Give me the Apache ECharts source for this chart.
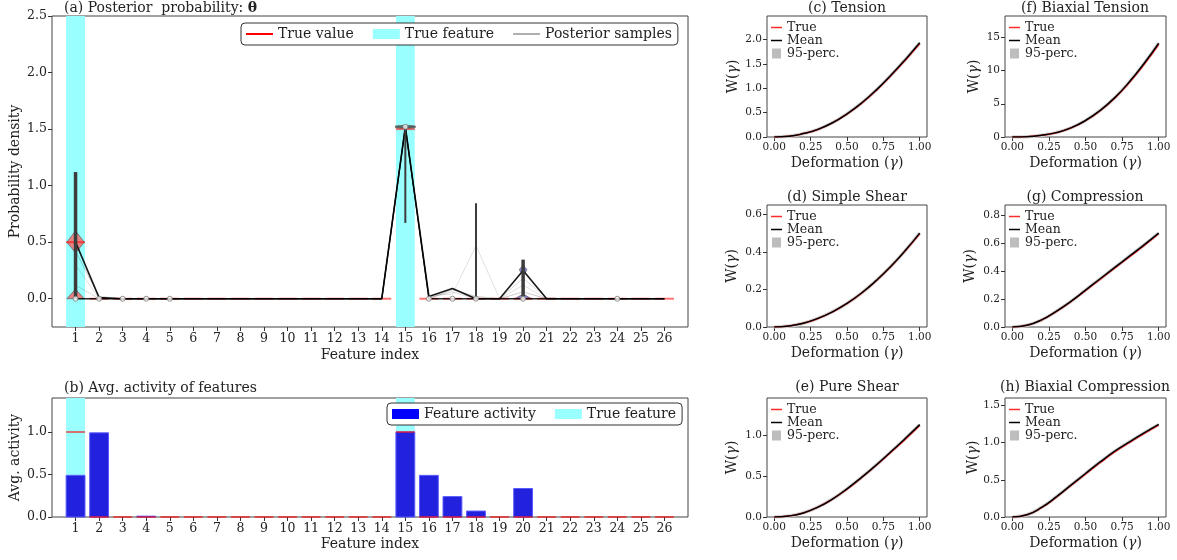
<!DOCTYPE html>
<html>
<head>
<meta charset="utf-8">
<script src="https://cdn.jsdelivr.net/npm/echarts@6.0.0/dist/echarts.min.js"></script>
<style>html,body{margin:0;padding:0;background:#fff}#c{width:1177px;height:560px}</style>
</head>
<body>
<div id="c"></div>
<script>
// ---------------- DATA ----------------
const features = [1,2,3,4,5,6,7,8,9,10,11,12,13,14,15,16,17,18,19,20,21,22,23,24,25,26];
const trueFeatures = [1, 15];
const trueValues = [0.5,0,0,0,0,0,0,0,0,0,0,0,0,0,1.5,0,0,0,0,0,0,0,0,0,0,0];
// posterior sample traces (value per feature)
const sampleMain = [0.50,0.01,0,0,0,0,0,0,0,0,0,0,0,0,1.52,0.02,0.09,0,0,0.25,0,0,0,0,0,0];
const sampleB    = [0.00,0.00,0,0,0,0,0,0,0,0,0,0,0,0,1.52,0.00,0.00,0,0,0.00,0,0,0,0,0,0];
const sampleC    = [0.30,0.00,0,0,0,0,0,0,0,0,0,0,0,0,1.50,0.03,0.04,0.47,0,0.12,0,0,0,0,0,0];
const sampleD    = [0.12,0.00,0,0,0,0,0,0,0,0,0,0,0,0,1.51,0.01,0.06,0,0,0.18,0.01,0,0,0,0,0];
const sampleE    = [0.42,0.02,0,0,0,0,0,0,0,0,0,0,0,0,1.52,0.00,0.08,0.02,0,0.06,0,0,0,0,0,0];
// violin profiles: [value, half-width in feature units]
const violin1  = [[0,0.37],[0.08,0.02],[0.41,0.02],[0.5,0.37],[0.595,0.02],[1.12,0]];
const violin15 = [[1.505,0],[1.512,0.42],[1.528,0.42],[1.535,0]];
const violin20 = [[0,0.35],[0.04,0.02],[0.22,0.02],[0.235,0.1],[0.256,0.16],[0.275,0.1],[0.29,0.02],[0.345,0]];
const violinX = [1, 15, 20];
// vertical range lines
const rangeX  = [1, 15, 18, 20];
const rangeLo = [0, 0.67, 0, 0];
const rangeHi = [1.12, 1.52, 0.845, 0.345];
// median markers
const markX = [1,2,3,4,5,15,16,17,18,20,24];
const markY = [0,0,0,0,0,1.52,0,0,0,0,0];
// (b) activity
const activity = [0.49,0.99,0,0.01,0,0,0,0,0,0,0,0,0,0,1.0,0.49,0.24,0.07,0,0.335,0,0,0,0,0,0];
const trueActivity = [1,0,0,0,0,0,0,0,0,0,0,0,0,0,1,0,0,0,0,0,0,0,0,0,0,0];
// tick labels
const ticksA = [0, 0.5, 1.0, 1.5, 2.0, 2.5];
const ticksB = [0, 0.5, 1.0];
const gammaTicks = [0, 0.25, 0.5, 0.75, 1.0];
const ticksC = [0, 0.5, 1.0, 1.5, 2.0];
const ticksF = [0, 5, 10, 15];
const ticksD = [0, 0.2, 0.4, 0.6];
const ticksG = [0, 0.2, 0.4, 0.6, 0.8];
const ticksE = [0, 0.5, 1.0];
const ticksH = [0, 0.5, 1.0, 1.5];
// deformation curves
const gamma = [0,0.1,0.2,0.3,0.4,0.5,0.6,0.7,0.8,0.9,1.0];
const tensionTrue = [0,0.015,0.07,0.155,0.29,0.47,0.69,0.95,1.25,1.57,1.91];
const tensionMean = [0,0.015,0.07,0.157,0.292,0.475,0.697,0.96,1.26,1.585,1.93];
const biaxTTrue   = [0,0.05,0.25,0.65,1.35,2.45,3.95,5.85,8.2,10.9,13.9];
const biaxTMean   = [0,0.05,0.26,0.66,1.37,2.48,4.0,5.92,8.3,11.05,14.1];
const shearTrue   = [0,0.005,0.02,0.045,0.08,0.125,0.18,0.245,0.32,0.405,0.497];
const shearMean   = [0,0.005,0.02,0.046,0.081,0.126,0.181,0.247,0.322,0.407,0.5];
const compTrue    = [0,0.012,0.05,0.11,0.18,0.26,0.34,0.42,0.50,0.58,0.665];
const compMean    = [0,0.012,0.051,0.112,0.183,0.263,0.344,0.425,0.505,0.586,0.67];
const pureTrue    = [0,0.012,0.05,0.12,0.22,0.34,0.48,0.63,0.79,0.95,1.12];
const pureMean    = [0,0.012,0.05,0.12,0.22,0.345,0.485,0.635,0.795,0.96,1.13];
const biaxCTrue   = [0,0.03,0.125,0.265,0.42,0.575,0.73,0.875,1.0,1.12,1.235];
const biaxCMean   = [0,0.03,0.13,0.27,0.428,0.585,0.74,0.885,1.01,1.13,1.245];

// ---------------- STYLE / LAYOUT ----------------
const FONT = 'DejaVu Serif';
const HW = 0.4; // half width of feature boxes in feature units
const grids = [
  {left:51,  top:16,  width:637, height:311}, // a
  {left:51,  top:398, width:637, height:119}, // b
  {left:767, top:16,  width:160, height:121}, // c
  {left:767, top:205, width:160, height:122}, // d
  {left:767, top:398, width:160, height:119}, // e
  {left:1005,top:16,  width:161, height:121}, // f
  {left:1005,top:205, width:161, height:122}, // g
  {left:1005,top:398, width:161, height:119}  // h
].map(g => Object.assign({show:true, borderColor:'#444', borderWidth:1, backgroundColor:'transparent'}, g));

const richG = {g:{fontStyle:'italic', fontFamily:FONT, fontSize:14, color:'#222'}};
function axis(gi, min, max, ticks, fmt, fs, name, gap) {
  return {
    type:'value', gridIndex:gi, min:min, max:max,
    axisLine:{show:false, onZero:false},
    axisTick:{show:true, inside:false, length:4, lineStyle:{color:'#333'}, customValues:ticks},
    axisLabel:{show:true, customValues:ticks, formatter:fmt, fontFamily:FONT, fontSize:fs, color:'#222', margin:5},
    splitLine:{show:false},
    name:name, nameLocation:'middle', nameGap:gap, nameMoveOverlap:false,
    nameTextStyle:{fontFamily:FONT, fontSize:14, color:'#222', rich:richG}
  };
}
const f1 = v => v.toFixed(1), f2 = v => v.toFixed(2), f0 = v => String(Math.round(v));

const xAxes = [
  axis(0, 0, 27, features, f0, 12.5, 'Feature index', 21),
  axis(1, 0, 27, features, f0, 12.5, 'Feature index', 20),
];
const yAxes = [
  axis(0, -0.25, 2.5, ticksA, f1, 12.5, 'Probability density', 30),
  axis(1, 0, 1.4, ticksB, f1, 12.5, 'Avg. activity', 30),
];
const smallDefs = [
  {gi:2, ymax:2.48, ticks:ticksC, fmt:f1, gap:27, t:tensionTrue, m:tensionMean},
  {gi:3, ymax:0.65, ticks:ticksD, fmt:f1, gap:28, t:shearTrue,   m:shearMean},
  {gi:4, ymax:1.456,ticks:ticksE, fmt:f1, gap:28, t:pureTrue,    m:pureMean},
  {gi:5, ymax:18.2, ticks:ticksF, fmt:f0, gap:24, t:biaxTTrue,   m:biaxTMean},
  {gi:6, ymax:0.87, ticks:ticksG, fmt:f1, gap:28, t:compTrue,    m:compMean},
  {gi:7, ymax:1.6,  ticks:ticksH, fmt:f1, gap:25, t:biaxCTrue,   m:biaxCMean}
];
smallDefs.forEach(d => {
  xAxes.push(axis(d.gi, -0.05, 1.05, gammaTicks, f2, 10.5, 'Deformation ({g|γ})', 19));
  yAxes.push(axis(d.gi, 0, d.ymax, d.ticks, d.fmt, 10.5, 'W({g|γ})', d.gap));
});

// ---------------- RENDER HELPERS ----------------
function bandRender(params, api) {
  const x = api.value(0);
  const cs = params.coordSys;
  const p1 = api.coord([x - HW, 0]), p2 = api.coord([x + HW, 0]);
  return {type:'rect', shape:{x:p1[0], y:cs.y, width:p2[0]-p1[0], height:cs.height}, style:{fill:'#99ffff'}};
}
function hlineRender(params, api) {
  const x = api.value(0), y = api.value(1);
  const a = api.coord([x - HW, y]), b = api.coord([x + HW, y]);
  return {type:'line', shape:{x1:a[0], y1:a[1], x2:b[0], y2:b[1]}, style:{stroke:'rgba(255,0,0,0.55)', lineWidth:2}};
}
const violinProfiles = [violin1, violin15, violin20];
const violinFill = ['rgba(236,118,118,0.9)', 'rgba(70,70,70,0.85)', 'rgba(105,105,215,0.8)'];
function violinRender(params, api) {
  const i = params.dataIndex, x = api.value(0), prof = violinProfiles[i];
  const left = prof.map(p => api.coord([x - p[1], p[0]]));
  const right = prof.slice().reverse().map(p => api.coord([x + p[1], p[0]]));
  return {type:'polygon', shape:{points:left.concat(right)}, style:{fill:violinFill[i], stroke:'#666', lineWidth:0.8}};
}
const rangeWidth = [3.5, 2, 2, 3.5];
function rangeRender(params, api) {
  const x = api.value(0);
  const a = api.coord([x, api.value(1)]), b = api.coord([x, api.value(2)]);
  return {type:'line', shape:{x1:a[0], y1:a[1], x2:b[0], y2:b[1]}, style:{stroke:'#3c3c3c', lineWidth:rangeWidth[params.dataIndex]}};
}
function barRender(params, api) {
  const x = api.value(0), v = api.value(1);
  if (!(v > 0)) return null;
  const a = api.coord([x - HW, v]), b = api.coord([x + HW, 0]);
  return {type:'rect', shape:{x:a[0], y:a[1], width:b[0]-a[0], height:b[1]-a[1]}, style:{fill:'#2121de', stroke:'#5a5aff', lineWidth:1}};
}

const series = [];
// ---- panel (a)
series.push({name:'True feature', type:'custom', xAxisIndex:0, yAxisIndex:0, renderItem:bandRender, data:trueFeatures.map(v=>[v]), itemStyle:{color:'#99ffff'}, z:1, silent:true});
series.push({name:'violins', type:'custom', xAxisIndex:0, yAxisIndex:0, renderItem:violinRender, data:violinX.map(v=>[v]), z:2, clip:true, silent:true});
series.push({name:'trueLinesA', type:'custom', xAxisIndex:0, yAxisIndex:0, renderItem:hlineRender, data:features.map((f,i)=>[f, trueValues[i]]), z:3, silent:true});
const sampleSets = [sampleC, sampleD, sampleE, sampleB, sampleMain];
const sampleStyle = [
  {color:'#000', width:1, opacity:0.12},
  {color:'#000', width:1, opacity:0.15},
  {color:'#000', width:1, opacity:0.2},
  {color:'#000', width:1.3, opacity:0.85},
  {color:'#000', width:1.6, opacity:0.9}
];
sampleSets.forEach((s, k) => {
  series.push({name:'sample'+k, type:'line', xAxisIndex:0, yAxisIndex:0, data:features.map((f,i)=>[f, s[i]]), symbol:'none', lineStyle:sampleStyle[k], z:4, silent:true, animation:false});
});
series.push({name:'ranges', type:'custom', xAxisIndex:0, yAxisIndex:0, renderItem:rangeRender, data:rangeX.map((x,i)=>[x, rangeLo[i], rangeHi[i]]), z:5, silent:true});
series.push({name:'medians', type:'scatter', xAxisIndex:0, yAxisIndex:0, data:markX.map((x,i)=>[x, markY[i]]), symbol:'circle', symbolSize:5, itemStyle:{color:'#fff', borderColor:'#777', borderWidth:1}, z:6, silent:true});
series.push({name:'True value', type:'line', xAxisIndex:0, yAxisIndex:0, data:[], symbol:'none', lineStyle:{color:'#ff0000', width:2}, itemStyle:{color:'#ff0000'}});
series.push({name:'Posterior samples', type:'line', xAxisIndex:0, yAxisIndex:0, data:[], symbol:'none', lineStyle:{color:'#b0b0b0', width:1.5}, itemStyle:{color:'#b0b0b0'}});
// ---- panel (b)
series.push({name:'True feature', type:'custom', xAxisIndex:1, yAxisIndex:1, renderItem:bandRender, data:trueFeatures.map(v=>[v]), itemStyle:{color:'#99ffff'}, z:1, silent:true});
series.push({name:'Feature activity', type:'custom', xAxisIndex:1, yAxisIndex:1, renderItem:barRender, data:features.map((f,i)=>[f, activity[i]]), itemStyle:{color:'#0000ff'}, z:2, silent:true});
series.push({name:'trueLinesB', type:'custom', xAxisIndex:1, yAxisIndex:1, renderItem:hlineRender, data:features.map((f,i)=>[f, trueActivity[i]]), z:3, silent:true});
// ---- small panels
smallDefs.forEach(d => {
  const gi = d.gi;
  series.push({name:'95-perc.', type:'line', xAxisIndex:gi, yAxisIndex:gi, data:gamma.map((g,i)=>[g, d.m[i]]), smooth:true, symbol:'none', lineStyle:{color:'#d2d2d2', width:3.5}, itemStyle:{color:'#bdbdbd'}, z:2, silent:true});
  series.push({name:'True', type:'line', xAxisIndex:gi, yAxisIndex:gi, data:gamma.map((g,i)=>[g, d.t[i]]), smooth:true, symbol:'none', lineStyle:{color:'#ff2a2a', width:1.5}, itemStyle:{color:'#ff2a2a'}, z:3, silent:true});
  series.push({name:'Mean', type:'line', xAxisIndex:gi, yAxisIndex:gi, data:gamma.map((g,i)=>[g, d.m[i]]), smooth:true, symbol:'none', lineStyle:{color:'#000', width:1.5}, itemStyle:{color:'#000'}, z:4, silent:true});
});

// ---------------- LEGENDS ----------------
const bigLine = 'path://M0,0M27,10M0,4h27v2h-27z';
const smallLine = 'path://M0,0M11,10M0,4.25h11v1.5h-11z';
const smallSquare = 'path://M0,0M11,10M1,0h9v10h-9z';
const legendText = {fontFamily:FONT, fontSize:14, color:'#222'};
const legends = [
  {left:241, top:23, orient:'horizontal', itemWidth:27, itemHeight:10, itemGap:19, padding:[4,6,4,5],
   borderColor:'#333', borderWidth:1, borderRadius:4, backgroundColor:'#fff', textStyle:legendText, selectedMode:false,
   data:[{name:'True value', icon:bigLine}, {name:'True feature', icon:'rect'}, {name:'Posterior samples', icon:bigLine}]},
  {left:387, top:403, orient:'horizontal', itemWidth:27, itemHeight:10, itemGap:19, padding:[4,6,4,5],
   borderColor:'#333', borderWidth:1, borderRadius:4, backgroundColor:'#fff', textStyle:legendText, selectedMode:false,
   data:[{name:'Feature activity', icon:'rect'}, {name:'True feature', icon:'rect'}]}
];
smallDefs.forEach(d => {
  const g = grids[d.gi];
  legends.push({left:g.left+4, top:g.top+5, orient:'vertical', itemWidth:11, itemHeight:10, itemGap:0, padding:0,
    textStyle:{fontFamily:FONT, fontSize:12.5, color:'#222'}, selectedMode:false,
    data:[{name:'True', icon:smallLine}, {name:'Mean', icon:smallLine}, {name:'95-perc.', icon:smallSquare}]});
});

// ---------------- TITLES ----------------
function titleText(x, y, text, align, rich) {
  return {type:'text', x:x, y:y, z:100, silent:true,
    style:{text:text, fontFamily:FONT, fontSize:14, fill:'#222', align:align, verticalAlign:'middle', rich:rich || {}}};
}
const graphics = [
  titleText(64, 8, '(a) Posterior  probability: {b|θ}', 'left', {b:{fontFamily:FONT, fontSize:14, fontWeight:'bold', fill:'#222'}}),
  titleText(64, 388, '(b) Avg. activity of features', 'left'),
  titleText(847, 8, '(c) Tension', 'center'),
  titleText(847, 197, '(d) Simple Shear', 'center'),
  titleText(847, 387, '(e) Pure Shear', 'center'),
  titleText(1085, 8, '(f) Biaxial Tension', 'center'),
  titleText(1085, 197, '(g) Compression', 'center'),
  titleText(1085, 387, '(h) Biaxial Compression', 'center')
];

const chart = echarts.init(document.getElementById('c'), null, {renderer:'canvas'});
chart.setOption({
  animation:false,
  backgroundColor:'#fff',
  textStyle:{fontFamily:FONT},
  grid:grids,
  xAxis:xAxes,
  yAxis:yAxes,
  legend:legends,
  series:series,
  graphic:graphics
});
</script>
</body>
</html>
